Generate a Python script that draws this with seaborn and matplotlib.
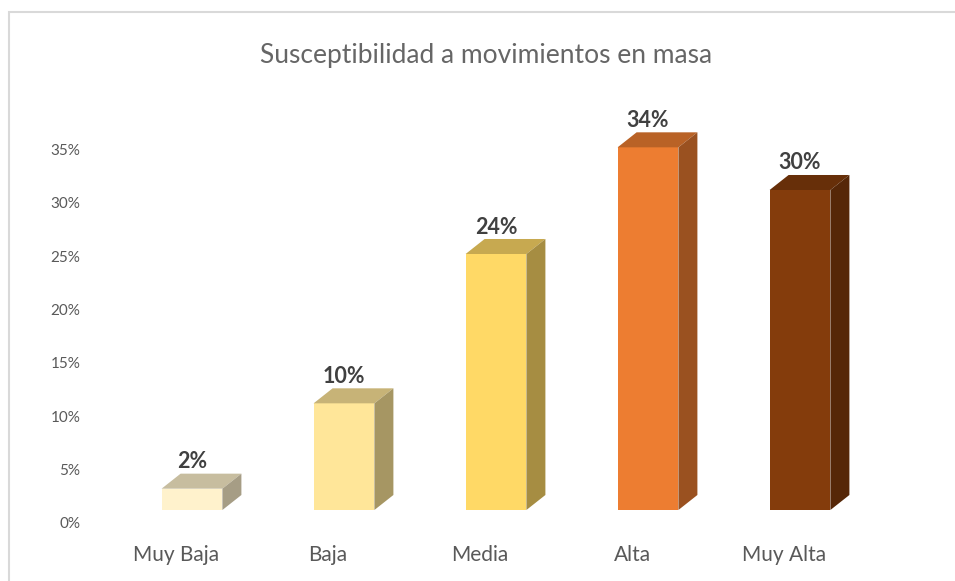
import matplotlib
matplotlib.use("Agg")
import matplotlib.pyplot as plt
import matplotlib.transforms as mtransforms
from matplotlib.patches import Polygon, Rectangle
import pandas as pd
import seaborn as sns

# === DATOS ===
categorias = ["Muy Baja", "Baja", "Media", "Alta", "Muy Alta"]
porcentajes = [2, 10, 24, 34, 30]
etiquetas = ["2%", "10%", "24%", "34%", "30%"]
colores = ["#FFF2CC", "#FFE699", "#FFD966", "#ED7D31", "#843C0C"]
marcas_y = [0, 5, 10, 15, 20, 25, 30, 35]

df = pd.DataFrame({"categoria": categorias, "valor": porcentajes})

# === ESTILO ===
sns.set_theme(style="white")
plt.rcParams["font.family"] = ["Lato", "DejaVu Sans"]

fig = plt.figure(figsize=(9.55, 5.81), dpi=100)
ax = fig.add_axes([100 / 955, 58 / 581, 760 / 955, 400 / 581])

sns.barplot(data=df, x="categoria", y="valor", hue="categoria", palette=colores,
            width=0.4, saturation=1, legend=False, ax=ax)

ax.set_xlim(-0.5, 4.5)
ax.set_ylim(0, 37.5)

# Efecto 3D: desplazamiento de las barras y caras superior / lateral
desplaz = mtransforms.ScaledTranslation(0.16, 0.13, fig.dpi_scale_trans)
trans = ax.transData + desplaz
prof_x = 19 / 152
prof_y = 15 / 10.66


def oscurecer(color, f):
    r, g, b = matplotlib.colors.to_rgb(color)
    return (r * f, g * f, b * f)


for cont, color, etiqueta in zip(ax.containers, colores, etiquetas):
    for barra in cont:
        barra.set_transform(trans)
        barra.set_edgecolor("none")
        x0 = barra.get_x()
        w = barra.get_width()
        h = barra.get_height()
        cara_sup = [(x0, h), (x0 + w, h), (x0 + w + prof_x, h + prof_y), (x0 + prof_x, h + prof_y)]
        cara_lat = [(x0 + w, 0), (x0 + w + prof_x, prof_y), (x0 + w + prof_x, h + prof_y), (x0 + w, h)]
        ax.add_patch(Polygon(cara_sup, closed=True, transform=trans,
                             facecolor=oscurecer(color, 0.78), edgecolor="none"))
        ax.add_patch(Polygon(cara_lat, closed=True, transform=trans,
                             facecolor=oscurecer(color, 0.65), edgecolor="none"))
        ax.annotate(etiqueta, (x0 + w / 2, h), xytext=(16, 40), textcoords="offset pixels",
                    ha="center", va="center", fontsize=15.5, fontweight="bold", color="#404040")

# === EJES ===
ax.set_yticks(marcas_y)
ax.set_yticklabels([f"{v}%" for v in marcas_y])
ax.set_xlabel("")
ax.set_ylabel("")
ax.tick_params(axis="y", length=0, pad=14, labelsize=11, colors="#595959")
ax.tick_params(axis="x", length=0, pad=16, labelsize=15, colors="#595959")
for s in ax.spines.values():
    s.set_visible(False)
ax.grid(False)

fig.text(486 / 955, 1 - 55 / 581, "Susceptibilidad a movimientos en masa",
         ha="center", va="center", fontsize=19, fontweight="normal", color="#666666")

# Marco del gráfico
fig.patches.append(Rectangle((9 / 955, -0.1), 1.2, 1 - 12 / 581 + 0.1, transform=fig.transFigure,
                             fill=False, edgecolor="#D9D9D9", lw=1.5))

fig.savefig("out.png", dpi=100)
